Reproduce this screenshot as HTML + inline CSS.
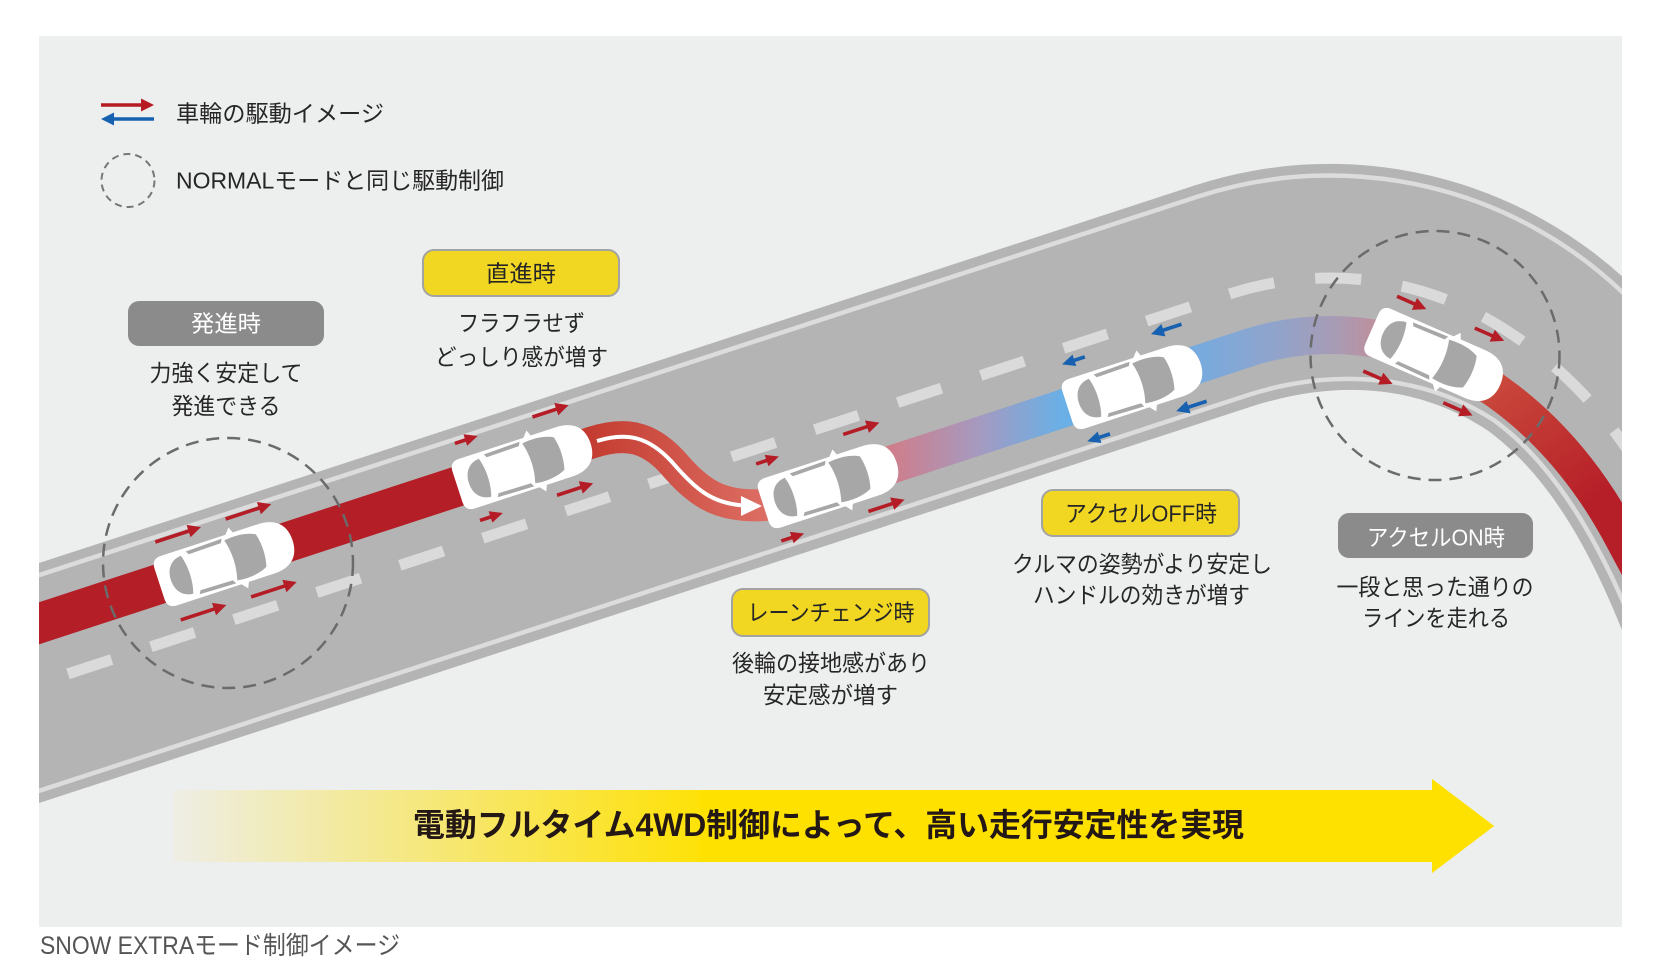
<!DOCTYPE html>
<html><head><meta charset="utf-8"><style>
html,body{margin:0;padding:0;background:#fff;}
svg{display:block;}
text{font-family:"Liberation Sans","Noto Sans CJK JP",sans-serif;}
</style></head><body>
<svg width="1665" height="980" viewBox="0 0 1665 980" xmlns="http://www.w3.org/2000/svg" xmlns:xlink="http://www.w3.org/1999/xlink">
<defs>
  <clipPath id="panel"><rect x="39" y="36" width="1583" height="891"/></clipPath>
  <linearGradient id="gS" gradientUnits="userSpaceOnUse" x1="590" y1="0" x2="770" y2="0">
    <stop offset="0" stop-color="#c43c31"/><stop offset="1" stop-color="#dd6f64"/>
  </linearGradient>
  <linearGradient id="gB" gradientUnits="userSpaceOnUse" x1="880" y1="0" x2="1060" y2="0">
    <stop offset="0" stop-color="#d47a84"/><stop offset="0.55" stop-color="#a59ac0"/><stop offset="1" stop-color="#6aafe5"/>
  </linearGradient>
  <linearGradient id="gC" gradientUnits="userSpaceOnUse" x1="1195" y1="0" x2="1385" y2="0">
    <stop offset="0" stop-color="#76abdf"/><stop offset="0.45" stop-color="#92a3ca"/><stop offset="0.75" stop-color="#a99bb4"/><stop offset="1" stop-color="#c28d98"/>
  </linearGradient>
  <linearGradient id="gD" gradientUnits="userSpaceOnUse" x1="1480" y1="380" x2="1580" y2="510">
    <stop offset="0" stop-color="#cb4b3d"/><stop offset="1" stop-color="#b61f28"/>
  </linearGradient>
  <linearGradient id="gT" gradientUnits="userSpaceOnUse" x1="170" y1="0" x2="720" y2="0">
    <stop offset="0" stop-color="#ffe100" stop-opacity="0.03"/><stop offset="1" stop-color="#ffe100" stop-opacity="1"/>
  </linearGradient>
  <g id="car">
    <path d="M -60 -26 L 42 -26 C 62 -26 70 -15 70 0 C 70 15 62 26 42 26 L -60 26 Q -70 26 -70 16 L -70 -16 Q -70 -26 -60 -26 Z" fill="#fff"/>
    <path d="M -41 -20 C -53 -19 -58 -10 -58 0 C -58 10 -53 19 -41 20 C -37 8 -37 -8 -41 -20 Z" fill="#a7a7a7"/>
    <path d="M 5 -21 C 18 -23 30 -21 37 -17 C 40 -6 40 6 37 17 C 30 21 18 23 5 21 C 9 8 9 -8 5 -21 Z" fill="#a7a7a7"/>
    <path d="M -35 -22.5 L 3 -23.5 L 1 -19.5 L -33 -19 Z" fill="#a7a7a7"/>
    <path d="M -35 22.5 L 3 23.5 L 1 19.5 L -33 19 Z" fill="#a7a7a7"/>
    <path d="M 7 -25 L 13 -32 L 16 -25 Z" fill="#fff"/>
    <path d="M 7 25 L 13 32 L 16 25 Z" fill="#fff"/>
  </g>
  <path id="a48" d="M -24 -1.8 L 11 -1.8 L 11 -6.5 L 24 0 L 11 6.5 L 11 1.8 L -24 1.8 Z"/>
  <path id="a38" d="M -19 -1.8 L 6 -1.8 L 6 -6.5 L 19 0 L 6 6.5 L 6 1.8 L -19 1.8 Z"/>
  <path id="a32" d="M -16 -1.8 L 3 -1.8 L 3 -6.5 L 16 0 L 3 6.5 L 3 1.8 L -16 1.8 Z"/>
  <path id="a24" d="M -12 -1.8 L -1 -1.8 L -1 -6 L 12 0 L -1 6 L -1 1.8 L -12 1.8 Z"/>
</defs>

<!-- panel -->
<rect x="39" y="36" width="1583" height="891" fill="#edeeee"/>

<g clip-path="url(#panel)">
  <!-- road body -->
  <path d="M 0 575.8 L 1194.5 185.5 A 436 436 0 0 1 1638.3 291.7 L 1700 400 L 1700 820 L 1680 773 L 1622 630 C 1592 555.8 1551.7 477 1487 430 C 1420 386.4 1340.3 377.6 1250 407 L 0 815.8 Z" fill="#b4b4b4"/>
  <!-- edge light lines -->
  <path d="M 0 587.9 L 1198.1 196.5 A 424.5 424.5 0 0 1 1630.2 299.8" fill="none" stroke="#dcdcdc" stroke-width="4.5"/>
  <path d="M 0 803.7 L 1246.3 395.6 C 1336.6 366.2 1426.5 376.3 1494.1 420.3 C 1558.8 467.3 1603.1 551.3 1633.1 625.5 L 1690 766" fill="none" stroke="#dcdcdc" stroke-width="4.5"/>
  <!-- center dashes -->
  <path d="M -20 702.6 L 1230 293.9 A 322 322 0 0 1 1491 321.1 C 1551.6 356.1 1605 409.4 1640 470 L 1700 574" fill="none" stroke="#dadada" stroke-width="11" stroke-dasharray="46 41.3" stroke-dashoffset="-5.2"/>

  <!-- lane bands -->
  <path d="M -20 642.6 L 524 464.7" fill="none" stroke="#b41f27" stroke-width="40"/>
  <path d="M 560 452.9 L 592 442.4 C 625 432 648 436 672 462 C 698 492 718 508 765 505 L 800 494.5" fill="none" stroke="url(#gS)" stroke-width="32"/>
  <path d="M 860 474.9 L 1134 385.3" fill="none" stroke="url(#gB)" stroke-width="38"/>
  <path d="M 1134 385.3 L 1247.7 348.1 A 265 265 0 0 1 1436 357.1" fill="none" stroke="url(#gC)" stroke-width="38"/>
  <path d="M 1436 357.1 C 1518.4 393 1579.8 458.5 1622 538 L 1670 628" fill="none" stroke="url(#gD)" stroke-width="35"/>

  <!-- white lane change arrow -->
  <path d="M 597 441 C 626 432 648 436 672 462 C 696 490 712 503 743 505.5" fill="none" stroke="#fff" stroke-width="4"/>
  <polygon points="762,506 741,496 741,516" fill="#fff"/>

  <!-- car 1 -->
  <g transform="translate(226 562) rotate(-18.1)">
    <use href="#car" xlink:href="#car"/>
    <use href="#a48" xlink:href="#a48" x="-37" y="-41" fill="#b51d26"/>
    <use href="#a48" xlink:href="#a48" x="37" y="-41" fill="#b51d26"/>
    <use href="#a48" xlink:href="#a48" x="-37" y="41" fill="#b51d26"/>
    <use href="#a48" xlink:href="#a48" x="37" y="41" fill="#b51d26"/>
  </g>
  <!-- car 2 -->
  <g transform="translate(524 465) rotate(-18.1)">
    <use href="#car" xlink:href="#car"/>
    <use href="#a24" xlink:href="#a24" x="-47" y="-42" fill="#b51d26"/>
    <use href="#a38" xlink:href="#a38" x="42" y="-43" fill="#b51d26"/>
    <use href="#a24" xlink:href="#a24" x="-47" y="39" fill="#b51d26"/>
    <use href="#a38" xlink:href="#a38" x="41" y="39" fill="#b51d26"/>
  </g>
  <!-- car 3 -->
  <g transform="translate(830 484) rotate(-18.1)">
    <use href="#car" xlink:href="#car"/>
    <use href="#a24" xlink:href="#a24" x="-52" y="-42" fill="#b51d26"/>
    <use href="#a38" xlink:href="#a38" x="47" y="-43" fill="#b51d26"/>
    <use href="#a24" xlink:href="#a24" x="-52" y="39" fill="#b51d26"/>
    <use href="#a38" xlink:href="#a38" x="47" y="38" fill="#b51d26"/>
  </g>
  <!-- car 4 -->
  <g transform="translate(1134 385) rotate(-18.1)">
    <use href="#car" xlink:href="#car"/>
    <use href="#a32" xlink:href="#a32" transform="translate(48 -43) scale(-1 1)" fill="#1761b0"/>
    <use href="#a24" xlink:href="#a24" transform="translate(-50 -42) scale(-1 1)" fill="#1761b0"/>
    <use href="#a32" xlink:href="#a32" transform="translate(48 38) scale(-1 1)" fill="#1761b0"/>
    <use href="#a24" xlink:href="#a24" transform="translate(-50 39) scale(-1 1)" fill="#1761b0"/>
  </g>
  <!-- car 5 -->
  <g transform="translate(1436 357) rotate(23.6)">
    <use href="#car" xlink:href="#car"/>
    <use href="#a32" xlink:href="#a32" x="-44" y="-40" fill="#b51d26"/>
    <use href="#a32" xlink:href="#a32" x="40" y="-42" fill="#b51d26"/>
    <use href="#a32" xlink:href="#a32" x="-45" y="42" fill="#b51d26"/>
    <use href="#a32" xlink:href="#a32" x="41" y="39" fill="#b51d26"/>
  </g>

  <!-- dashed circles -->
  <circle cx="228" cy="563" r="125" fill="none" stroke="#6b6b6b" stroke-width="2.5" stroke-dasharray="13 8"/>
  <circle cx="1435" cy="355.5" r="124.5" fill="none" stroke="#6b6b6b" stroke-width="2.5" stroke-dasharray="13 8"/>

  <!-- title arrow -->
  <path d="M 173 790 L 1432 790 L 1432 779 L 1494 826 L 1432 873 L 1432 862 L 173 862 Z" fill="url(#gT)"/>
  <path d="M 700 790 L 1432 790 L 1432 779 L 1494 826 L 1432 873 L 1432 862 L 700 862 Z" fill="#ffe100"/>
</g>

<!-- legend -->
<path d="M 101 103.3 L 141 103.3 L 141 98.5 L 154 105 L 141 111.5 L 141 106.7 L 101 106.7 Z" fill="#b71c25"/>
<path d="M 154 117.3 L 114 117.3 L 114 112.5 L 101 119 L 114 125.5 L 114 120.7 L 154 120.7 Z" fill="#1761b0"/>
<circle cx="128" cy="180.5" r="26.5" fill="none" stroke="#777" stroke-width="2" stroke-dasharray="7 5"/>
<text x="176" y="121.5" font-size="23" fill="#262626" textLength="208" lengthAdjust="spacingAndGlyphs">車輪の駆動イメージ</text>
<text x="176" y="188.5" font-size="23" fill="#262626" textLength="328" lengthAdjust="spacingAndGlyphs">NORMALモードと同じ駆動制御</text>

<!-- label boxes -->
<rect x="128" y="301" width="196" height="45" rx="11" fill="#8b8b8b"/>
<rect x="423" y="250" width="196" height="46" rx="11" fill="#f2d722" stroke="#a3a3a3" stroke-width="2"/>
<rect x="732" y="589" width="197" height="47" rx="11" fill="#f2d722" stroke="#a3a3a3" stroke-width="2"/>
<rect x="1042" y="490" width="197" height="46" rx="11" fill="#f2d722" stroke="#a3a3a3" stroke-width="2"/>
<rect x="1338" y="513" width="195" height="45" rx="11" fill="#8b8b8b"/>

<g font-size="23" text-anchor="middle" fill="#262626">
  <text x="226" y="331.3" fill="#fff" textLength="70" lengthAdjust="spacingAndGlyphs">発進時</text>
  <text x="226" y="381" textLength="153" lengthAdjust="spacingAndGlyphs">力強く安定して</text>
  <text x="226" y="414" textLength="109" lengthAdjust="spacingAndGlyphs">発進できる</text>

  <text x="521" y="281.3" textLength="70" lengthAdjust="spacingAndGlyphs">直進時</text>
  <text x="521.5" y="331" textLength="127" lengthAdjust="spacingAndGlyphs">フラフラせず</text>
  <text x="521.5" y="365" textLength="173" lengthAdjust="spacingAndGlyphs">どっしり感が増す</text>

  <text x="831" y="620.3" textLength="167" lengthAdjust="spacingAndGlyphs">レーンチェンジ時</text>
  <text x="831" y="671" textLength="198" lengthAdjust="spacingAndGlyphs">後輪の接地感があり</text>
  <text x="830.5" y="703" textLength="135" lengthAdjust="spacingAndGlyphs">安定感が増す</text>

  <text x="1141" y="521.3" textLength="152" lengthAdjust="spacingAndGlyphs">アクセルOFF時</text>
  <text x="1142" y="572" textLength="260" lengthAdjust="spacingAndGlyphs">クルマの姿勢がより安定し</text>
  <text x="1141.5" y="603" textLength="217" lengthAdjust="spacingAndGlyphs">ハンドルの効きが増す</text>

  <text x="1436" y="545.3" fill="#fff" textLength="138" lengthAdjust="spacingAndGlyphs">アクセルON時</text>
  <text x="1435" y="595" textLength="197" lengthAdjust="spacingAndGlyphs">一段と思った通りの</text>
  <text x="1436" y="626" textLength="148" lengthAdjust="spacingAndGlyphs">ラインを走れる</text>
</g>

<text x="828.5" y="836" font-size="32" font-weight="700" text-anchor="middle" fill="#231815" textLength="831" lengthAdjust="spacingAndGlyphs">電動フルタイム4WD制御によって、高い走行安定性を実現</text>

<text x="40" y="954" font-size="25" fill="#555" textLength="360" lengthAdjust="spacingAndGlyphs">SNOW EXTRAモード制御イメージ</text>
</svg>
</body></html>
